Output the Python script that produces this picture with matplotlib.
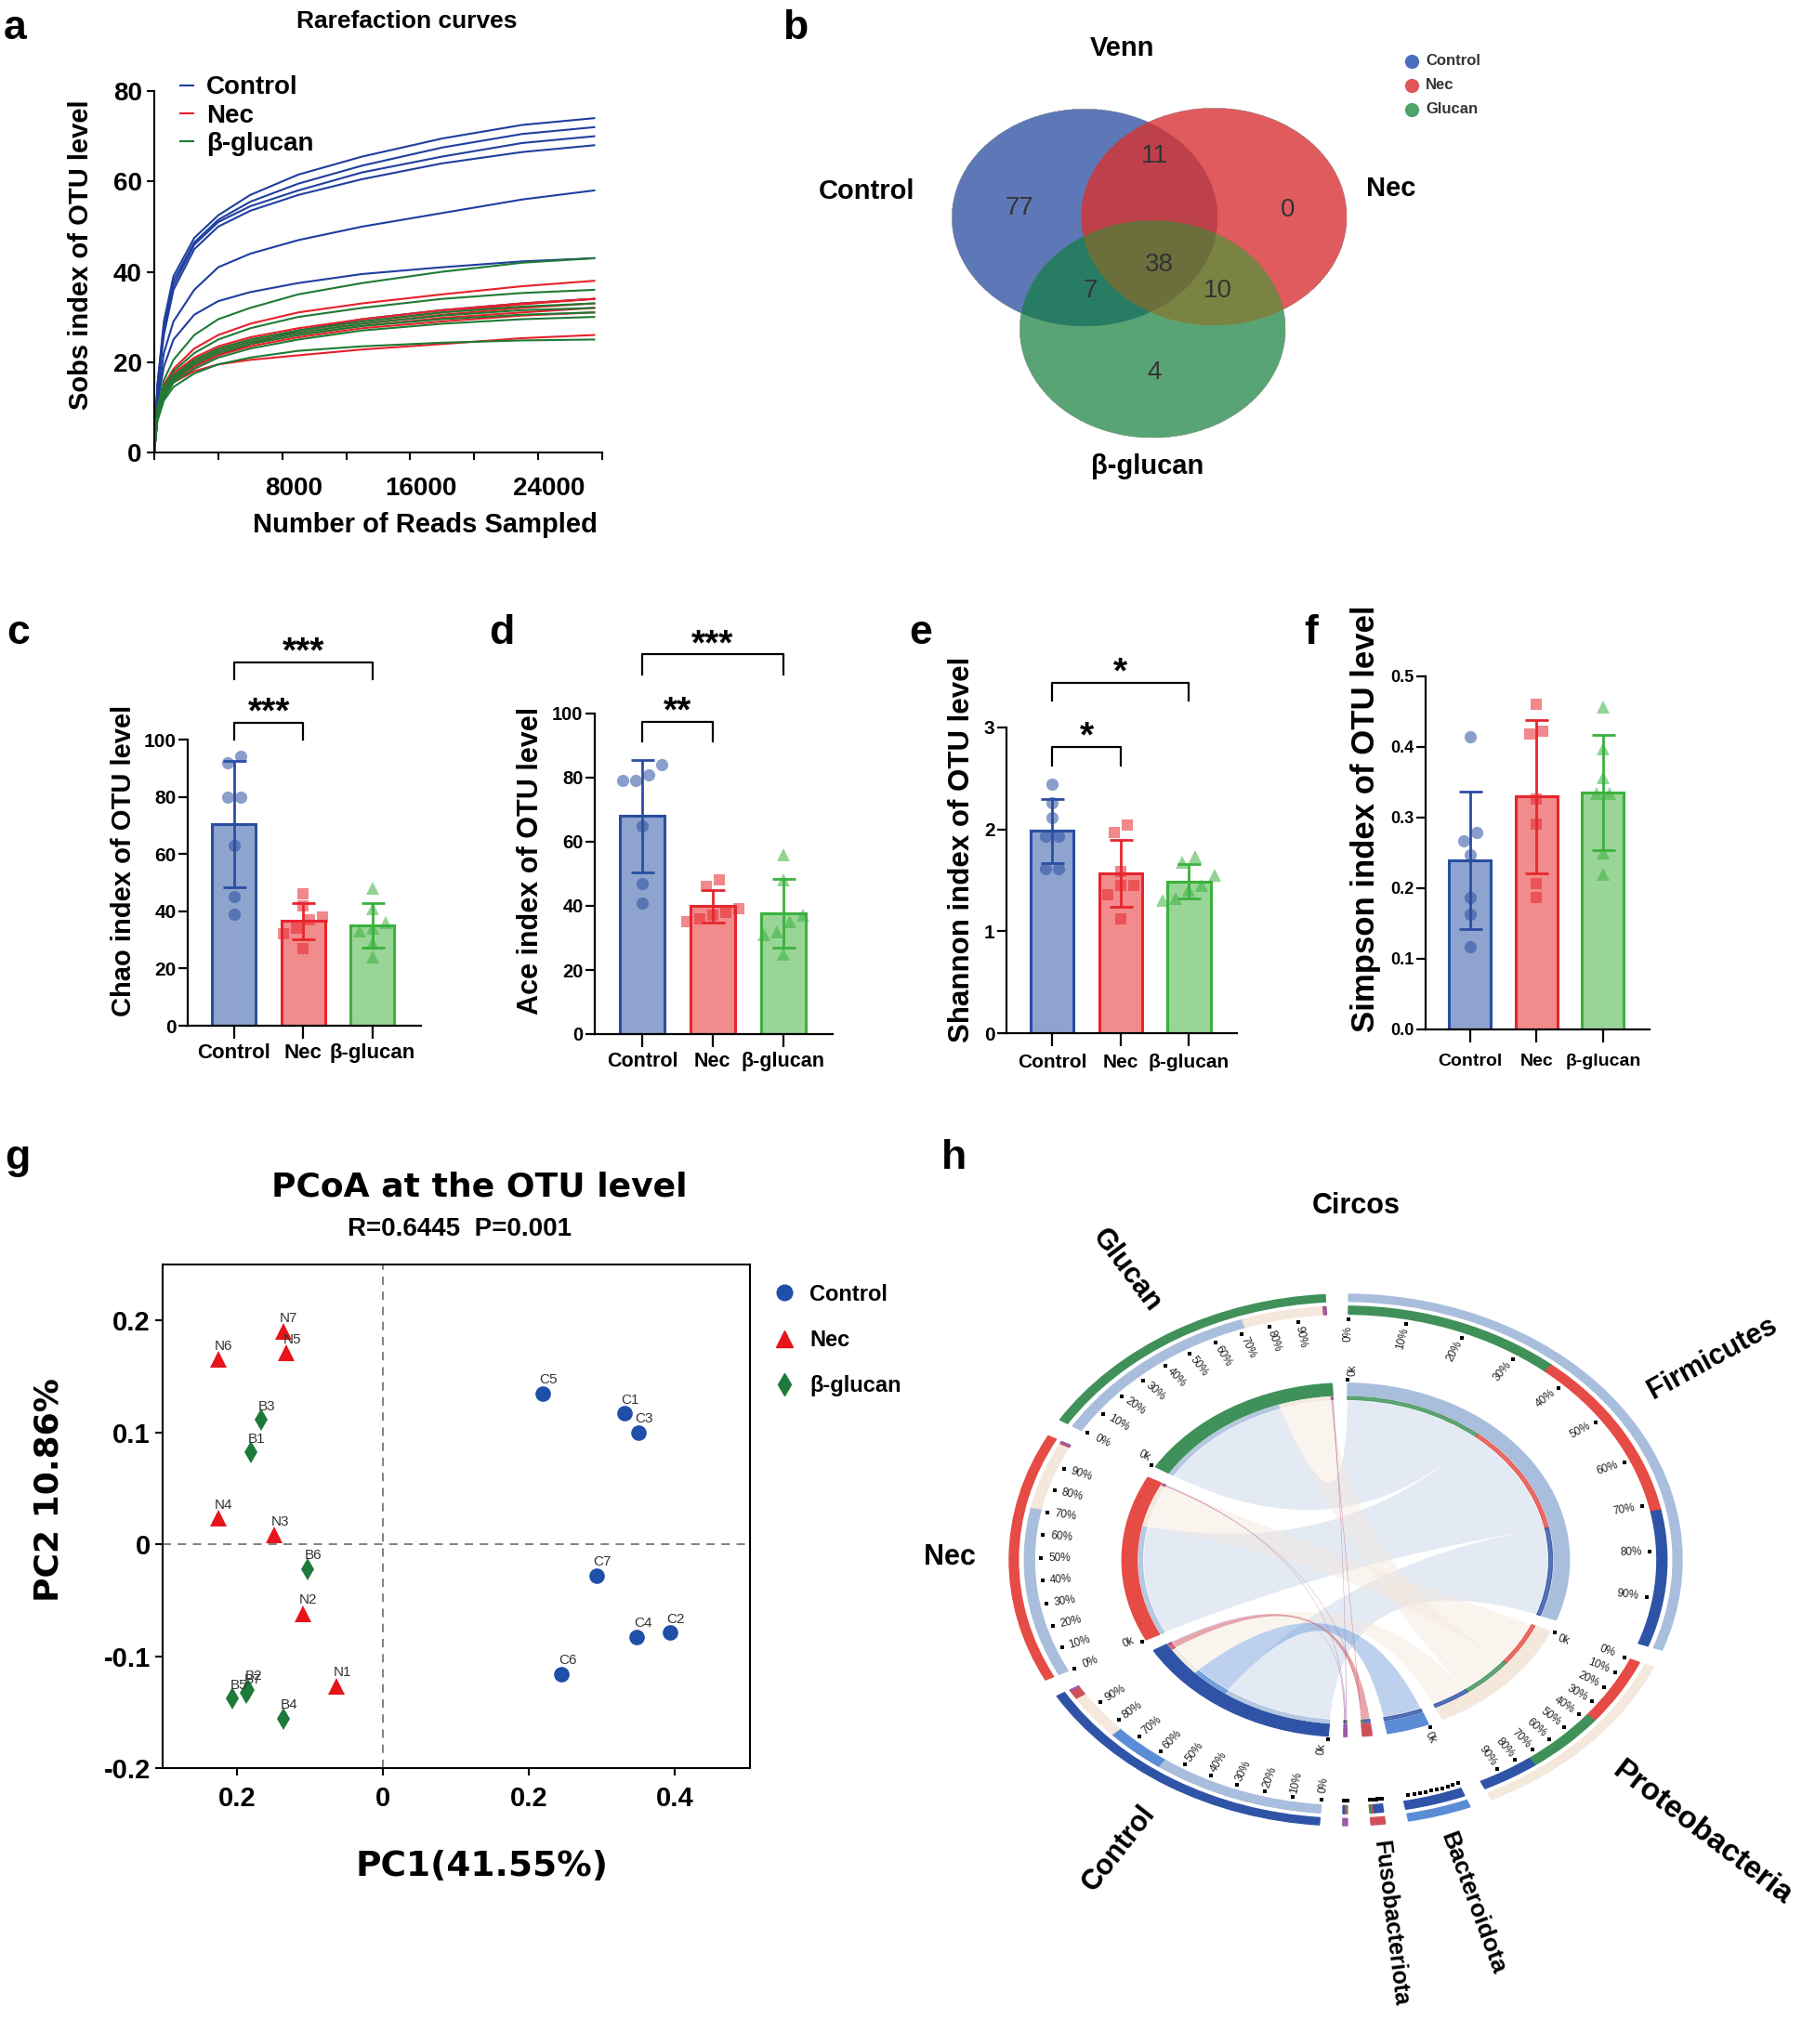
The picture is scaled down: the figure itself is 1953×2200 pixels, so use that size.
import numpy as np
import matplotlib
matplotlib.use("Agg")
import matplotlib.pyplot as plt
from matplotlib import font_manager
from matplotlib.patches import Wedge, PathPatch
from matplotlib.path import Path
from matplotlib.lines import Line2D
from matplotlib.transforms import ScaledTranslation

W, H, DPI = 1953, 2200, 100
_fonts = {f.name for f in font_manager.fontManager.ttflist}
SANS = "Liberation Sans" if "Liberation Sans" in _fonts else "DejaVu Sans"
plt.rcParams["font.family"] = [SANS, "DejaVu Sans"]
plt.rcParams["axes.facecolor"] = "none"

# ---------------- data ----------------
# a: rarefaction curves, Sobs read off at these depths
depths = [0, 200, 600, 1200, 2500, 4000, 6000, 9000, 13000, 18000, 23000, 27500]
sobs_control = [
    [0, 15, 29, 39, 47.5, 52.5, 57, 61.5, 65.5, 69.5, 72.5, 74],
    [0, 15, 28, 38, 46.5, 51.5, 55.5, 59.5, 63.5, 67.5, 70.5, 72],
    [0, 14, 27, 37, 46, 51, 54.5, 58, 62, 65.5, 68.5, 70],
    [0, 14, 26, 36, 45, 50, 53.5, 57, 60.5, 64, 66.5, 68],
    [0, 12, 22, 29, 36, 41, 44, 47, 50, 53, 56, 58],
    [0, 11, 19, 25, 30.5, 33.5, 35.5, 37.5, 39.5, 41, 42.3, 43],
    [0, 9, 13, 16, 19, 21.5, 24, 27, 29.5, 31.5, 33, 34],
]
sobs_nec = [
    [0, 10, 15, 18.5, 23, 26, 28.5, 31, 33, 35, 36.8, 38],
    [0, 9, 14, 17.5, 21, 23.5, 25.5, 27.5, 29.5, 31.5, 33, 34],
    [0, 9, 14, 17, 20.5, 23, 25, 27, 29, 31, 32.8, 34],
    [0, 9, 13.5, 17, 20, 22.5, 24.5, 26.5, 28.5, 30.5, 32, 33],
    [0, 9, 13.5, 16.5, 19.5, 22, 24, 26, 28, 29.8, 31, 32],
    [0, 8, 13, 16, 19, 21.5, 23.5, 25.5, 27.5, 29, 30.3, 31],
    [0, 8, 12.5, 15.5, 18, 19.5, 20.5, 21.5, 22.8, 24, 25.3, 26],
]
sobs_glucan = [
    [0, 10, 16, 20.5, 26, 29.5, 32, 35, 37.5, 40, 42, 43],
    [0, 9, 14.5, 18, 22, 25, 27.5, 30, 32, 34, 35.3, 36],
    [0, 9, 13.5, 17, 20.5, 23, 25, 27, 29, 31, 32.3, 33],
    [0, 8, 13, 16.5, 20, 22.5, 24.5, 26.5, 28.5, 30.3, 31.5, 32],
    [0, 8, 12.5, 16, 19.5, 22, 24, 26, 28, 29.5, 30.5, 31],
    [0, 8, 12, 15.5, 18.5, 21, 23, 25, 27, 28.5, 29.5, 30],
    [0, 7, 11.5, 14.5, 17.5, 19.5, 21, 22.5, 23.5, 24.3, 24.8, 25],
]

# b: Venn, region membership (Control, Nec, Glucan) and OTU counts
venn_regions = [(1, 0, 0), (0, 1, 0), (0, 0, 1), (1, 1, 0), (1, 0, 1), (0, 1, 1), (1, 1, 1)]
venn_counts = [77, 0, 4, 11, 7, 10, 38]

# c-f: alpha diversity per sample
groups = ["Control", "Nec", "β-glucan"]
chao_control = [94, 92, 80, 80, 63, 45, 39]
chao_nec = [46, 42, 38, 37, 34, 32, 27]
chao_glucan = [48, 41, 36, 34, 33, 29, 24]
ace_control = [84, 81, 79, 79, 65, 47, 41]
ace_nec = [48, 46, 39, 38, 37, 36, 35]
ace_glucan = [56, 48, 37, 35, 32, 31, 25]
shannon_control = [2.44, 2.26, 2.12, 1.93, 1.93, 1.61, 1.61]
shannon_nec = [2.04, 1.97, 1.59, 1.45, 1.45, 1.36, 1.12]
shannon_glucan = [1.73, 1.68, 1.55, 1.45, 1.40, 1.32, 1.30]
simpson_control = [0.414, 0.279, 0.267, 0.248, 0.187, 0.163, 0.117]
simpson_nec = [0.46, 0.418, 0.422, 0.326, 0.291, 0.206, 0.187]
simpson_glucan = [0.457, 0.397, 0.356, 0.334, 0.334, 0.25, 0.22]

# g: PCoA scores
pc_control_names = ["C1", "C2", "C3", "C4", "C5", "C6", "C7"]
pc_control_x = [0.331, 0.393, 0.350, 0.348, 0.219, 0.245, 0.293]
pc_control_y = [0.117, -0.079, 0.100, -0.083, 0.135, -0.116, -0.028]
pc_nec_names = ["N1", "N2", "N3", "N4", "N5", "N6", "N7"]
pc_nec_x = [-0.064, -0.110, -0.149, -0.226, -0.132, -0.226, -0.137]
pc_nec_y = [-0.127, -0.062, 0.008, 0.023, 0.171, 0.165, 0.190]
pc_glucan_names = ["B1", "B2", "B3", "B4", "B5", "B6", "B7"]
pc_glucan_x = [-0.181, -0.185, -0.167, -0.137, -0.206, -0.103, -0.187]
pc_glucan_y = [0.082, -0.130, 0.111, -0.156, -0.138, -0.022, -0.133]

# h: circos, relative abundance of each phylum in each group
circos_phyla = ["Firmicutes", "Proteobacteria", "Bacteroidota", "Fusobacteriota", "Others"]
circos_control = [0.57, 0.19, 0.20, 0.035, 0.005]
circos_nec = [0.71, 0.28, 0.0, 0.005, 0.005]
circos_glucan = [0.72, 0.27, 0.0, 0.005, 0.005]

# ---------------- figure ----------------
fig = plt.figure(figsize=(W / DPI, H / DPI), dpi=DPI)


def px_rect(l, t, r, b):
    return [l / W, 1 - b / H, (r - l) / W, (b - t) / H]


ov = fig.add_axes([0, 0, 1, 1])
ov.axis("off")

for letter, x, y in [("a", 4, 42), ("b", 842, 42), ("c", 7, 693), ("d", 526, 693),
                     ("e", 978, 693), ("f", 1403, 693), ("g", 5, 1258), ("h", 1013, 1258)]:
    ov.text(x, y, letter, fontsize=32, fontweight="bold", ha="left", va="baseline")

# ---- a: rarefaction ----
C_BLUE, C_RED, C_GREEN = "#1F3E9E", "#E8202A", "#1F7A34"
ax = fig.add_axes(px_rect(166, 98, 648, 487))
for curves, col in ((sobs_control, C_BLUE), (sobs_nec, C_RED), (sobs_glucan, C_GREEN)):
    for ys in curves:
        ax.plot(depths, ys, color=col, lw=1.5)
ax.set_xlim(0, 28000)
ax.set_ylim(0, 80)
ax.set_yticks([0, 20, 40, 60, 80])
ax.set_xticks(range(0, 28001, 4000))
ax.set_xticklabels(["", "", "8000", "", "16000", "", "24000", ""])
for sp in ("top", "right"):
    ax.spines[sp].set_visible(False)
for sp in ("left", "bottom"):
    ax.spines[sp].set_linewidth(1.5)
ax.tick_params(labelsize=20, width=1.5, length=6)
ax.tick_params(axis="x", pad=13)
shift = ScaledTranslation(12 / DPI, 0, fig.dpi_scale_trans)
for lab in ax.get_xticklabels():
    lab.set_transform(lab.get_transform() + shift)
for lab in ax.get_xticklabels() + ax.get_yticklabels():
    lab.set_fontweight("bold")
handles = [Line2D([], [], color=c, lw=1.5) for c in (C_BLUE, C_RED, C_GREEN)]
ax.legend(handles, ["Control", "Nec", "β-glucan"], loc="upper left", bbox_to_anchor=(0.058, 1.043),
          frameon=False, prop=dict(weight="bold", size=20), handlelength=0.5, handletextpad=0.5,
          labelspacing=0.16, borderaxespad=0, borderpad=0)
ov.text(438, 23, "Rarefaction curves", fontsize=19, fontweight="bold", ha="center", va="center")
ov.text(87, 274, "Sobs index of OTU level", fontsize=21, fontweight="bold", rotation=90,
        ha="center", va="center")
ov.text(457, 565, "Number of Reads Sampled", fontsize=21, fontweight="bold", ha="center", va="center")

# ---- b: Venn ----
ell = [(1167, 235), (1306, 234), (1240, 355)]
ea, eb = 143, 117
region_rgb = {(1, 0, 0): "#5E79B7", (0, 1, 0): "#E05B5E", (0, 0, 1): "#5AA575",
              (1, 1, 0): "#BE404B", (1, 0, 1): "#297C64", (0, 1, 1): "#7B8342", (1, 1, 1): "#6B6F3C"}
# where each region's count is written
venn_label_xy = {(1, 0, 0): (1097, 224), (0, 1, 0): (1386, 226), (0, 0, 1): (1242, 401),
                 (1, 1, 0): (1242, 168), (1, 0, 1): (1173, 313), (0, 1, 1): (1310, 313),
                 (1, 1, 1): (1247, 285)}
gx = np.arange(1015, 1460, 0.5)
gy = np.arange(110, 480, 0.5)
GX, GY = np.meshgrid(gx, gy)
masks = [((GX - cx) / ea) ** 2 + ((GY - cy) / eb) ** 2 <= 1 for cx, cy in ell]
img = np.zeros(GX.shape + (4,))
for key, colr in region_rgb.items():
    sel = (masks[0] == key[0]) & (masks[1] == key[1]) & (masks[2] == key[2])
    img[sel] = matplotlib.colors.to_rgba(colr)
ov.imshow(img, extent=(gx[0], gx[-1], gy[-1], gy[0]), interpolation="antialiased", aspect="auto", zorder=1)
for key, n in zip(venn_regions, venn_counts):
    x, y = venn_label_xy[key]
    ov.text(x, y, str(n), fontsize=20, color="#333333", ha="center", va="center", zorder=3)
ov.text(1207, 52, "Venn", fontsize=21, fontweight="bold", ha="center", va="center")
ov.text(933, 206, "Control", fontsize=21, fontweight="bold", ha="center", va="center")
ov.text(1497, 203, "Nec", fontsize=21, fontweight="bold", ha="center", va="center")
ov.text(1235, 502, "β-glucan", fontsize=21, fontweight="bold", ha="center", va="center")
for yy, lab, colr in ((66, "Control", "#4A6FBF"), (92, "Nec", "#E15759"), (118, "Glucan", "#4FA46A")):
    ov.plot([1519], [yy], marker="o", ms=11, color=colr, mew=0)
    ov.text(1534, yy, lab, fontsize=12, fontweight="bold", color="#333333", ha="left", va="center")
ov.set_xlim(0, W)
ov.set_ylim(H, 0)

# ---- c-f: bar panels ----
FACE = ["#8EA4CE", "#F28B8C", "#99D597"]
EDGE = ["#2A4EA2", "#E6262D", "#3BB13E"]
MARK = ["o", "s", "^"]
MSIZE = [9.5, 9, 10]


def swarm(vals, thr, step):
    order = np.argsort(vals)
    offs = np.zeros(len(vals))
    clusters, cur = [], [order[0]]
    for a, b in zip(order[:-1], order[1:]):
        if vals[b] - vals[a] < thr:
            cur.append(b)
        else:
            clusters.append(cur)
            cur = [b]
    clusters.append(cur)
    for cl in clusters:
        k = len(cl)
        for i, idx in enumerate(cl):
            offs[idx] = (i - (k - 1) / 2) * step
    return offs


def bar_panel(box, data, ylim, yticks, ytlabels, brackets, tick_fs, cat_fs, xpad=4):
    l, t, r, b = box
    ax = fig.add_axes(px_rect(l, t, r, b))
    xlim = (-0.67, 2.7)
    ax.set_xlim(*xlim)
    ax.set_ylim(*ylim)
    ppx = (r - l) / (xlim[1] - xlim[0])
    ppy = (b - t) / (ylim[1] - ylim[0])
    for i, vals in enumerate(data):
        v = np.asarray(vals, float)
        m, sd = v.mean(), v.std(ddof=1)
        ax.bar(i, m, 0.63, color=FACE[i], edgecolor=EDGE[i], linewidth=2.2, zorder=1)
        offs = swarm(v, 12 / ppy, 14 / ppx)
        ax.plot(i + offs, v, ls="none", marker=MARK[i], ms=MSIZE[i], mew=0, color=EDGE[i],
                alpha=0.55, zorder=2, clip_on=False)
        ax.errorbar(i, m, yerr=sd, fmt="none", ecolor=EDGE[i], elinewidth=2, capsize=9,
                    capthick=2, zorder=3)
    for i, j, txt, ytop, yleg in brackets:
        ax.plot([i, i, j, j], [yleg, ytop, ytop, yleg], color="k", lw=1.6, clip_on=False)
        ax.text((i + j) / 2, ytop, txt, ha="center", va="baseline", fontsize=28,
                fontweight="bold", clip_on=False)
    ax.set_xticks([0, 1, 2])
    ax.set_xticklabels(groups)
    ax.set_yticks(yticks)
    ax.set_yticklabels(ytlabels)
    for sp in ("top", "right"):
        ax.spines[sp].set_visible(False)
    for sp in ("left", "bottom"):
        ax.spines[sp].set_linewidth(1.6)
    ax.tick_params(axis="y", width=1.6, length=7, labelsize=tick_fs, pad=2)
    ax.tick_params(axis="x", width=1.6, length=10, labelsize=cat_fs, pad=xpad)
    for lab in ax.get_xticklabels() + ax.get_yticklabels():
        lab.set_fontweight("bold")
    return ax


t100 = [0, 20, 40, 60, 80, 100]
bar_panel((202, 796, 453, 1104), [chao_control, chao_nec, chao_glucan], (0, 100), t100,
          [str(v) for v in t100], [(0, 1, "***", 106, 100), (0, 2, "***", 127, 121)], 15, 16)
bar_panel((640, 768, 896, 1113), [ace_control, ace_nec, ace_glucan], (0, 100), t100,
          [str(v) for v in t100], [(0, 1, "**", 97.4, 91.4), (0, 2, "***", 118.5, 112.3)], 14.5, 15.5)
bar_panel((1083, 783, 1331, 1112), [shannon_control, shannon_nec, shannon_glucan], (0, 3),
          [0, 1, 2, 3], ["0", "1", "2", "3"], [(0, 1, "*", 2.81, 2.63), (0, 2, "*", 3.44, 3.26)], 15, 15,
          xpad=6)
t05 = [0, 0.1, 0.2, 0.3, 0.4, 0.5]
bar_panel((1534, 728, 1775, 1108), [simpson_control, simpson_nec, simpson_glucan], (0, 0.5), t05,
          [f"{v:.1f}" for v in t05], [], 13, 14, xpad=9)
ov.text(133, 926, "Chao index of OTU level", fontsize=21, fontweight="bold", rotation=90, ha="center", va="center")
ov.text(571, 926, "Ace index of OTU level", fontsize=22, fontweight="bold", rotation=90, ha="center", va="center")
ov.text(1035, 914, "Shannon index of OTU level", fontsize=22.5, fontweight="bold", rotation=90, ha="center", va="center")
ov.text(1470, 881, "Simpson index of OTU level", fontsize=25, fontweight="bold", rotation=90, ha="center", va="center")

# ---- g: PCoA ----
P_BLUE, P_RED, P_GREEN = "#1F4FA8", "#E8141C", "#1E7A3A"
ax = fig.add_axes(px_rect(175, 1361, 807, 1903))
ax.set_xlim(-0.302, 0.503)
ax.set_ylim(-0.2, 0.25)
ax.axvline(0, color="#777777", lw=1.3, ls=(0, (5, 4)), zorder=0)
ax.axhline(0, color="#777777", lw=1.3, ls=(0, (5, 4)), zorder=0)
pc_groups = [(pc_control_names, pc_control_x, pc_control_y, P_BLUE, "o", 12),
             (pc_nec_names, pc_nec_x, pc_nec_y, P_RED, "^", 13),
             (pc_glucan_names, pc_glucan_x, pc_glucan_y, P_GREEN, "d", 12)]
for names, xs, ys, col, mk, ms in pc_groups:
    ax.plot(xs, ys, ls="none", marker=mk, color=col, ms=ms, mew=0)
    for n, x, y in zip(names, xs, ys):
        ax.annotate(n, (x, y), xytext=(4.5, 10.5), textcoords="offset points", ha="center",
                    va="center", fontsize=11, color="#333333")
ax.set_xticks([-0.2, 0, 0.2, 0.4])
ax.set_xticklabels(["0.2", "0", "0.2", "0.4"])
ax.set_yticks([-0.2, -0.1, 0, 0.1, 0.2])
ax.set_yticklabels(["-0.2", "-0.1", "0", "0.1", "0.2"])
for sp in ax.spines.values():
    sp.set_linewidth(1.5)
ax.tick_params(direction="out", length=6, width=1.5, labelsize=21)
ax.tick_params(axis="x", pad=8)
for lab in ax.get_xticklabels() + ax.get_yticklabels():
    lab.set_fontweight("bold")
leg_h = [Line2D([], [], ls="none", marker=mk, color=col, ms=ms) for _, _, _, col, mk, ms in pc_groups]
ax.legend(leg_h, groups, loc="upper left", bbox_to_anchor=(1.021, 0.962), frameon=False,
          prop=dict(weight="bold", size=17), handletextpad=0.15, labelspacing=1.12,
          borderaxespad=0, borderpad=0)
ov.text(516, 1278, "PCoA at the OTU level", family="DejaVu Sans", fontsize=26, fontweight="bold",
        ha="center", va="center")
ov.text(494, 1323, "R=0.6445  P=0.001", fontsize=20, fontweight="bold", ha="center", va="center")
ov.text(519, 2009, "PC1(41.55%)", family="DejaVu Sans", fontsize=27, fontweight="bold", ha="center", va="center")
ov.text(53, 1604, "PC2 10.86%", family="DejaVu Sans", fontsize=26, fontweight="bold", rotation=90,
        ha="center", va="center")

# ---- h: circos ----
CX, CY, RX, RY = 1448, 1679, 362, 286
cax = fig.add_axes(px_rect(1010, 1300, 1953, 2200))
cax.set_xlim((1010 - CX) / RX, (1953 - CX) / RX)
cax.set_ylim((CY - 2200) / RY, (CY - 1300) / RY)
cax.axis("off")

samples = ["Control", "Nec", "Glucan"]
rows = {"Control": circos_control, "Nec": circos_nec, "Glucan": circos_glucan}
sec_color = {"Firmicutes": "#A9BEDC", "Proteobacteria": "#F4E7DB", "Bacteroidota": "#5B8DD6",
             "Fusobacteriota": "#CF5059", "Others": "#9C5AA8",
             "Control": "#2F53A6", "Nec": "#E64B45", "Glucan": "#3F9159"}
ribbon_alpha = {"Firmicutes": 0.32, "Proteobacteria": 0.45, "Bacteroidota": 0.4,
                "Fusobacteriota": 0.5, "Others": 0.5}
label_style = {"Proteobacteria": (24, 1.12), "Bacteroidota": (19, 1.07), "Fusobacteriota": (18, 1.06)}
phyla_order_in_sample = ["Firmicutes", "Bacteroidota", "Proteobacteria", "Fusobacteriota", "Others"]
sample_order_in_phylum = {"Firmicutes": ["Glucan", "Nec", "Control"],
                          "Proteobacteria": ["Nec", "Glucan", "Control"],
                          "Bacteroidota": ["Control", "Nec", "Glucan"],
                          "Fusobacteriota": ["Control", "Nec", "Glucan"],
                          "Others": ["Glucan", "Nec", "Control"]}
sectors = circos_phyla + samples


def val(s, p):
    return rows[s][circos_phyla.index(p)]


totals = {s: sum(rows[s]) for s in samples}
for p in circos_phyla:
    totals[p] = sum(val(s, p) for s in samples)
gap = 4.0
unit = (360 - gap * len(sectors)) / sum(totals.values())
geom = {}
a0 = 89.5
for s in sectors:
    span = totals[s] * unit
    geom[s] = (a0, span)
    a0 -= span + gap

seg = {}  # (sector, other) -> (theta_start, theta_end)
for s in samples:
    st, span = geom[s]
    cum = 0.0
    for p in phyla_order_in_sample:
        v = val(s, p) / totals[s]
        seg[(s, p)] = (st - cum * span, st - (cum + v) * span)
        cum += v
for p in circos_phyla:
    st, span = geom[p]
    cum = 0.0
    for s in sample_order_in_phylum[p]:
        v = val(s, p) / totals[p]
        seg[(p, s)] = (st - cum * span, st - (cum + v) * span)
        cum += v


def arc(t1, t2, r, n=80):
    t = np.radians(np.linspace(t1, t2, n))
    return np.column_stack([r * np.cos(t), r * np.sin(t)])


R_IN = 0.60
for s in samples:
    for p in circos_phyla:
        if val(s, p) <= 0:
            continue
        A = arc(*seg[(s, p)], R_IN)
        B = arc(*seg[(p, s)], R_IN)
        verts = list(A) + [(0, 0), tuple(B[0])] + list(B[1:]) + [(0, 0), tuple(A[0]), tuple(A[0])]
        codes = ([Path.MOVETO] + [Path.LINETO] * (len(A) - 1) + [Path.CURVE3, Path.CURVE3]
                 + [Path.LINETO] * (len(B) - 1) + [Path.CURVE3, Path.CURVE3, Path.CLOSEPOLY])
        cax.add_patch(PathPatch(Path(verts, codes), facecolor=sec_color[p], edgecolor="none",
                                alpha=ribbon_alpha[p], zorder=1))


def nice(theta):
    t = np.radians(theta)
    phi = np.degrees(np.arctan2(RY * np.sin(t), RX * np.cos(t)))
    if np.cos(t) >= -1e-9:
        return phi, "left"
    return phi + 180, "right"


for s in sectors:
    st, span = geom[s]
    en = st - span
    col = sec_color[s]
    cax.add_patch(Wedge((0, 0), 1.0, en, st, width=0.027, color=col, zorder=2))
    cax.add_patch(Wedge((0, 0), 0.665, en, st, width=0.045, color=col, zorder=2))
    others = phyla_order_in_sample if s in samples else sample_order_in_phylum[s]
    for o in others:
        t1, t2 = seg[(s, o)]
        if abs(t1 - t2) < 1e-6:
            continue
        cax.add_patch(Wedge((0, 0), 0.955, t2, t1, width=0.03, color=sec_color[o], zorder=2))
        cax.add_patch(Wedge((0, 0), 0.615, t2, t1, width=0.011, color=sec_color[o], alpha=0.8, zorder=2))
    for k in range(10):
        th = np.radians(st - k / 10 * span)
        cax.plot(0.905 * np.cos(th), 0.905 * np.sin(th), marker="s", ms=3.2, color="k", mew=0, zorder=3)
        if span > 20:
            rot, _ = nice(np.degrees(th))
            cax.text(0.85 * np.cos(th), 0.85 * np.sin(th), f"{k * 10}%", fontsize=8.5, rotation=rot,
                     rotation_mode="anchor", ha="center", va="center", color="#222222", zorder=3)
    if span > 5:
        th = np.radians(st)
        cax.plot(0.678 * np.cos(th), 0.678 * np.sin(th), marker="s", ms=3.2, color="k", mew=0, zorder=3)
        th2 = np.radians(st - 1.2)
        rot, _ = nice(st)
        cax.text(0.715 * np.cos(th2), 0.715 * np.sin(th2), "0k", fontsize=8.5, rotation=rot,
                 rotation_mode="anchor", ha="center", va="center", color="#222222", zorder=3)
    if s != "Others":
        fs, rl = label_style.get(s, (22, 1.1))
        mid = st - span / 2
        rot, ha = nice(mid)
        tm = np.radians(mid)
        cax.text(rl * np.cos(tm), rl * np.sin(tm), s, fontsize=fs, fontweight="bold", rotation=rot,
                 rotation_mode="anchor", ha=ha, va="center", clip_on=False, zorder=3)
ov.text(1459, 1298, "Circos", fontsize=22, fontweight="bold", ha="center", va="center")

fig.savefig("out.png", dpi=DPI)
